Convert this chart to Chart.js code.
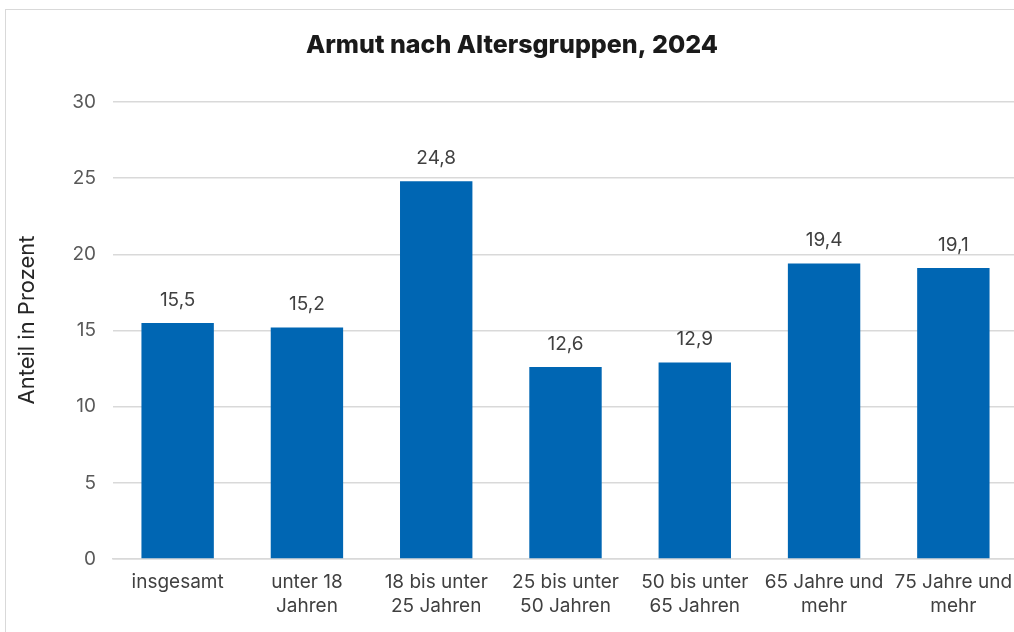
<!DOCTYPE html>
<html>
<head>
<meta charset="utf-8">
<script src="https://cdn.jsdelivr.net/npm/chart.js@4"></script>
<style>
    html, body { margin: 0; padding: 0; background: #fff; overflow: hidden; width: 1014px; height: 632px; }
    #wrap { position: absolute; left: 5px; top: 9px; width: 1014px; height: 640px; border: 1px solid #d9d9d9; box-sizing: border-box; }
    canvas { display: block; }
</style>
</head>
<body>
<div id="wrap"><canvas id="chart" width="1012" height="638"></canvas></div>
<script>
const categories = [
    ['insgesamt'],
    ['unter 18', 'Jahren'],
    ['18 bis unter', '25 Jahren'],
    ['25 bis unter', '50 Jahren'],
    ['50 bis unter', '65 Jahren'],
    ['65 Jahre und', 'mehr'],
    ['75 Jahre und', 'mehr'],
];
const shares = [15.5, 15.2, 24.8, 12.6, 12.9, 19.4, 19.1];
const yTicks = [0, 5, 10, 15, 20, 25, 30];

const FONT = 'Inter, "Noto Sans", sans-serif';

// values above the bars (decimal comma) + rotated axis title
const barLabels = {
    id: 'barLabels',
    afterDatasetsDraw(chart) {
        const { ctx } = chart;
        const meta = chart.getDatasetMeta(0);
        ctx.save();
        ctx.font = `19px ${FONT}`;
        ctx.fillStyle = '#404040';
        ctx.textAlign = 'center';
        ctx.textBaseline = 'middle';
        meta.data.forEach((bar, i) => {
            ctx.fillText(shares[i].toFixed(1).replace('.', ','), bar.x, bar.y - 23);
        });

        ctx.translate(21, 310);
        ctx.rotate(-Math.PI / 2);
        ctx.font = `22px ${FONT}`;
        ctx.fillStyle = '#262626';
        ctx.fillText('Anteil in Prozent', 0, 0);
        ctx.restore();
    },
};

new Chart(document.getElementById('chart'), {
    type: 'bar',
    data: {
        labels: categories,
        datasets: [{
            data: shares,
            backgroundColor: '#0066B3',
            barPercentage: 0.56,
            categoryPercentage: 1,
        }],
    },
    options: {
        responsive: false,
        animation: false,
        layout: { padding: 0 },
        plugins: {
            legend: { display: false },
            tooltip: { enabled: false },
            title: {
                display: true,
                text: 'Armut nach Altersgruppen, 2024',
                color: '#1a1a1a',
                font: { family: FONT, size: 25, weight: 800 },
                padding: { top: 20, bottom: 42 },
            },
        },
        scales: {
            x: {
                grid: { display: false, drawTicks: false },
                border: { color: '#d9d9d9', width: 1.5 },
                ticks: {
                    color: '#404040',
                    font: { family: FONT, size: 19, lineHeight: 1.26 },
                    padding: 11,
                    maxRotation: 0,
                    autoSkip: false,
                },
                // let the plot run to the canvas edge like the original
                afterFit: (s) => { s.height = 89; s.paddingLeft = 0; s.paddingRight = 0; },
            },
            y: {
                min: 0,
                max: 30,
                afterBuildTicks: (s) => { s.ticks = yTicks.map(v => ({ value: v })); },
                grid: { color: '#d9d9d9', lineWidth: 1.5, drawTicks: false },
                border: { display: false },
                ticks: {
                    color: '#595959',
                    font: { family: FONT, size: 19 },
                    padding: 17,
                },
                afterFit: (s) => { s.width = 107; },
            },
        },
    },
    plugins: [barLabels],
});
</script>
</body>
</html>
